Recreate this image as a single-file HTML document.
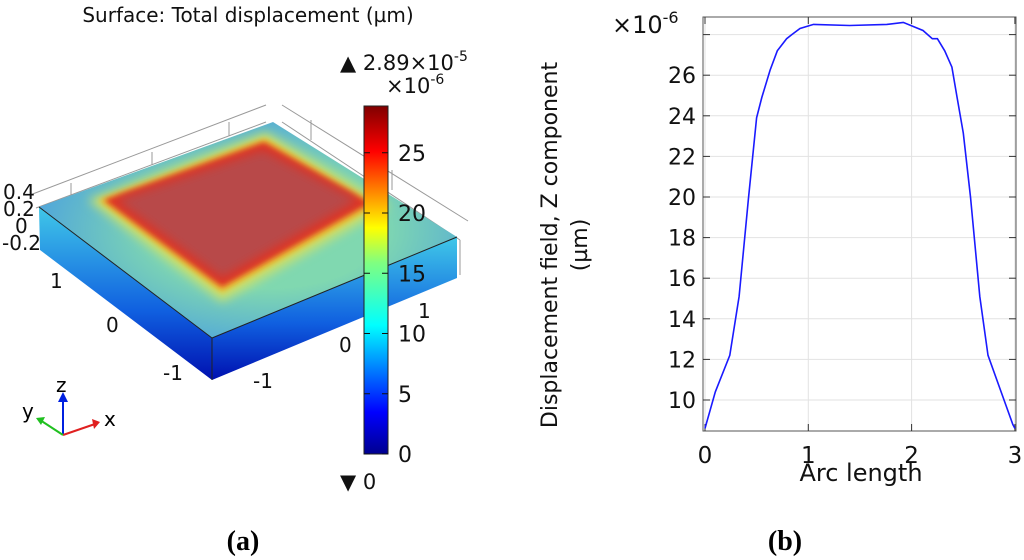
<!DOCTYPE html>
<html><head><meta charset="utf-8">
<style>
html,body{margin:0;padding:0;background:#fff;}
body{width:1024px;height:560px;overflow:hidden;font-family:"DejaVu Sans","Liberation Sans",sans-serif;}
svg{display:block}
</style></head>
<body>
<svg width="1024" height="560" viewBox="0 0 1024 560">
<defs>
<linearGradient id="jet" x1="0" y1="1" x2="0" y2="0">
<stop offset="0" stop-color="#00008f"/><stop offset="0.12" stop-color="#0000ff"/>
<stop offset="0.37" stop-color="#00ffff"/><stop offset="0.55" stop-color="#80ff80"/>
<stop offset="0.65" stop-color="#ffff00"/><stop offset="0.87" stop-color="#ff0000"/>
<stop offset="1" stop-color="#800000"/></linearGradient>
<linearGradient id="side" x1="0" y1="0" x2="0" y2="1">
<stop offset="0" stop-color="#40c8e8"/><stop offset="0.6" stop-color="#1060e0"/><stop offset="1" stop-color="#0010b0"/></linearGradient>
<radialGradient id="topg" cx="0.55" cy="0.5" r="0.6">
<stop offset="0.45" stop-color="#80d8b0"/><stop offset="1" stop-color="#4aa0e0"/></radialGradient>
<filter id="blur" x="-20%" y="-20%" width="140%" height="140%"><feGaussianBlur stdDeviation="5"/></filter>
<filter id="blur2" x="-20%" y="-20%" width="140%" height="140%"><feGaussianBlur stdDeviation="3"/></filter>
<clipPath id="topclip"><polygon points="39,207 273,122 457,237 212,338"/></clipPath>
</defs>

<!-- Panel a -->
<g>
<text x="248" y="22" font-size="20" text-anchor="middle" fill="#111">Surface: Total displacement (µm)</text>
<g stroke="#999" stroke-width="1" fill="none">
<line x1="30" y1="195" x2="266" y2="105"/><line x1="36" y1="208" x2="266" y2="122"/>
<line x1="282" y1="105" x2="468" y2="221"/><line x1="282" y1="122" x2="460" y2="240"/>
<line x1="71" y1="183" x2="71" y2="197"/><line x1="152" y1="152" x2="152" y2="165"/><line x1="229" y1="122" x2="229" y2="136"/>
<line x1="311" y1="120" x2="311" y2="140"/><line x1="392" y1="170" x2="392" y2="190"/><line x1="460" y1="240" x2="460" y2="275"/>
</g>
<polygon points="39,207 212,338 212,380 40,250" fill="url(#side)"/>
<polygon points="212,338 457,237 457,278 212,380" fill="url(#side)"/>
<polygon points="39,207 273,122 457,237 212,338" fill="url(#topg)"/>
<g clip-path="url(#topclip)">
<polygon points="88,200 266,132 390,206 222,302" fill="#c8e070" filter="url(#blur)"/>
<polygon points="98,200 265,138 378,205 222,293" fill="#e8c030" filter="url(#blur2)"/>
<polygon points="104,200 264,142 370,203 222,287" fill="#e03020" filter="url(#blur2)"/>
<polygon points="116,200 263,150 358,200 222,278" fill="#b84848" filter="url(#blur)"/>
</g>
<line x1="39" y1="207" x2="212" y2="338" stroke="#222" stroke-width="1"/>
<line x1="212" y1="338" x2="457" y2="237" stroke="#222" stroke-width="1"/>
<line x1="212" y1="338" x2="212" y2="380" stroke="#222" stroke-width="1"/>
<g font-size="20" fill="#111">
<text x="3" y="199">0.4</text><text x="3" y="216">0.2</text><text x="15" y="233">0</text><text x="2" y="250">-0.2</text>
<text x="50" y="288">1</text><text x="106" y="332">0</text><text x="163" y="380">-1</text>
<text x="253" y="388">-1</text><text x="339" y="352">0</text><text x="418" y="318">1</text>
</g>
<g>
<line x1="63" y1="435" x2="63" y2="398" stroke="#0020e0" stroke-width="2"/><polygon points="58,402 68,402 63,392" fill="#0020e0"/>
<line x1="63" y1="435" x2="95" y2="424" stroke="#e02020" stroke-width="2"/><polygon points="92,419 100,422 94,429" fill="#e02020"/>
<line x1="63" y1="435" x2="40" y2="420" stroke="#20c020" stroke-width="2"/><polygon points="36,418 45,417 41,425" fill="#20c020"/>
<text x="56" y="392" font-size="20">z</text><text x="104" y="426" font-size="20">x</text><text x="22" y="418" font-size="20">y</text>
</g>
<rect x="364" y="106" width="24" height="348" fill="url(#jet)" stroke="#222" stroke-width="1"/>
<g id="cbticks"></g>
<text x="340" y="70" font-size="21" fill="#111">▲ 2.89×10<tspan dy="-9" font-size="14">-5</tspan></text>
<text x="386" y="93" font-size="21" fill="#111">×10<tspan dy="-9" font-size="14">-6</tspan></text>
<text x="340" y="489" font-size="21" fill="#111">▼ 0</text>
</g>

<!-- Panel b -->
<g>
<g id="grid"></g>
<rect x="703" y="17" width="313" height="414" fill="none" stroke="#555" stroke-width="1"/>
<g id="ticks"></g>
<path id="line" fill="none" stroke="#1a1aff" stroke-width="1.6"/>
<text x="612" y="33" font-size="24" fill="#111">×10<tspan dy="-10" font-size="16">-6</tspan></text>
<text transform="translate(557,245) rotate(-90)" font-size="22" text-anchor="middle" fill="#111">Displacement field, Z component</text>
<text transform="translate(587,245) rotate(-90)" font-size="22" text-anchor="middle" fill="#111">(µm)</text>
<text x="861" y="481" font-size="24" text-anchor="middle" fill="#111">Arc length</text>
</g>

<text x="243" y="550" font-size="28" font-weight="bold" text-anchor="middle" font-family="Liberation Serif,serif">(a)</text>
<text x="785" y="550" font-size="28" font-weight="bold" text-anchor="middle" font-family="Liberation Serif,serif">(b)</text>
</svg>
<script>
const arcX=[0,0.10,0.24,0.33,0.42,0.50,0.55,0.63,0.70,0.79,0.84,0.92,1.05,1.40,1.76,1.92,2.11,2.20,2.25,2.32,2.39,2.44,2.50,2.57,2.66,2.74,2.86,2.98,3.0];
const dispZ=[8.6,10.4,12.2,15.1,19.9,23.9,24.9,26.25,27.2,27.8,28.0,28.3,28.5,28.45,28.5,28.6,28.2,27.8,27.8,27.2,26.4,24.9,23.15,20.0,15.1,12.2,10.5,8.8,8.6];
const xTicks=[0,1,2,3];
const yTicks=[10,12,14,16,18,20,22,24,26,28];
const cbTicks=[0,5,10,15,20,25];
const NS="http://www.w3.org/2000/svg";
const sx=v=>705+v*103.3, sy=v=>400-(v-10)*20.3, cy=v=>454-v*12.05;
function mk(tag,attrs,parent){const e=document.createElementNS(NS,tag);for(const k in attrs)e.setAttribute(k,attrs[k]);parent.appendChild(e);return e;}
const grid=document.getElementById('grid'),ticks=document.getElementById('ticks');
xTicks.forEach(t=>{
 const g=mk('line',{x1:sx(t),x2:sx(t),y1:17,y2:431,stroke:'#e2e2e2'},grid);
 
 
 mk('line',{x1:sx(t),x2:sx(t),y1:431,y2:424,stroke:'#333'},ticks);
 mk('line',{x1:sx(t),x2:sx(t),y1:17,y2:24,stroke:'#333'},ticks);
 const l=mk('text',{x:sx(t),y:463,'font-size':23,'text-anchor':'middle',fill:'#111'},ticks);l.textContent=t;
 
 
});
yTicks.forEach(t=>{
 const g=mk('line',{x1:703,x2:1016,y1:sy(t),y2:sy(t),stroke:'#e2e2e2'},grid);
 
 
 mk('line',{x1:703,x2:710,y1:sy(t),y2:sy(t),stroke:'#333'},ticks);
 mk('line',{x1:1009,x2:1016,y1:sy(t),y2:sy(t),stroke:'#333'},ticks);
 if(t<28){const l=mk('text',{x:696,y:sy(t)+8,'font-size':22,'text-anchor':'end',fill:'#111'},ticks);l.textContent=t;
 
 }
});
document.getElementById('line').setAttribute('d',arcX.map((x,i)=>(i?'L':'M')+sx(x).toFixed(1)+','+sy(dispZ[i]).toFixed(1)).join(''));
const cb=document.getElementById('cbticks');
cbTicks.forEach(t=>{
 mk('line',{x1:364,x2:370,y1:cy(t),y2:cy(t),stroke:'#111'},cb);
 mk('line',{x1:382,x2:388,y1:cy(t),y2:cy(t),stroke:'#111'},cb);
 const l=mk('text',{x:398,y:cy(t)+8,'font-size':22,fill:'#111'},cb);l.textContent=t;
 
 
});
</script>
</body></html>
